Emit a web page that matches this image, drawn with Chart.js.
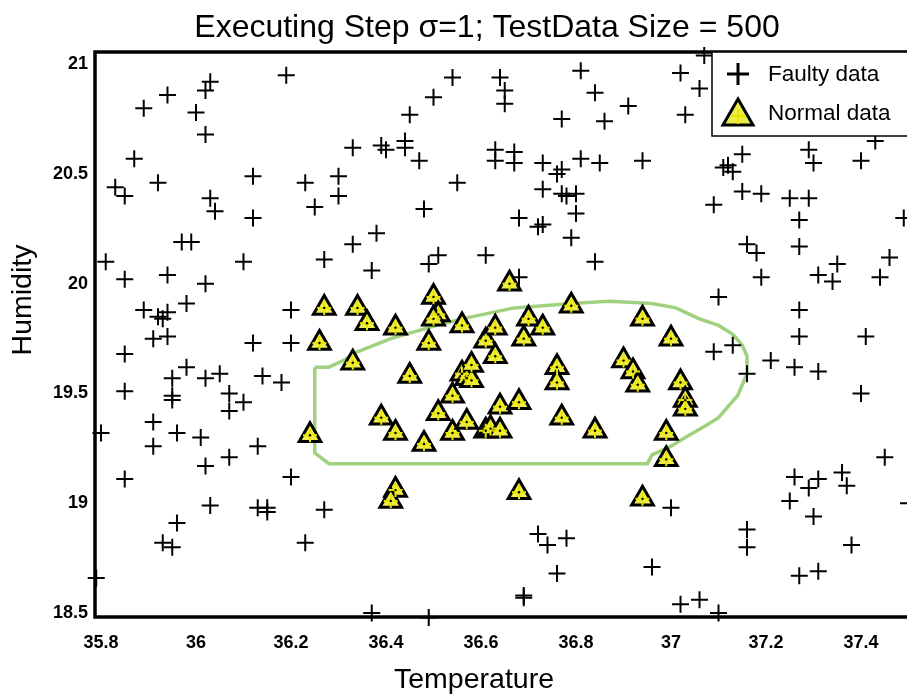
<!DOCTYPE html>
<html>
<head>
<meta charset="utf-8">
<title>Executing Step σ=1; TestData Size = 500</title>
<script src="https://cdn.jsdelivr.net/npm/chart.js@4.4.1/dist/chart.umd.min.js"></script>
<style>
  html, body { margin: 0; padding: 0; background: #fff; overflow: hidden; }
  #wrap { width: 907px; height: 697px; position: relative; }
</style>
</head>
<body>
<div id="wrap"><canvas id="chart"></canvas></div>
<script>
// tick labels
const xTicks = [35.8, 36, 36.2, 36.4, 36.6, 36.8, 37, 37.2, 37.4];
const yTicks = [18.5, 19, 19.5, 20, 20.5, 21];

// Faulty data (crosses)
const faultyTemp = [
    36.19, 36.03, 36.02, 35.94, 35.89, 36.00, 36.02, 36.33, 35.87, 36.12,
    35.83, 35.85, 35.92, 36.23, 36.30, 36.30, 36.03, 36.04, 36.12, 36.25,
    36.81, 36.54, 36.64, 36.65, 36.65, 36.50, 36.45, 36.84, 36.91, 36.77,
    36.86, 37.02, 37.03, 37.06, 36.39, 36.40, 36.44, 36.44, 36.47, 36.63,
    36.63, 36.67, 36.67, 36.73, 36.77, 36.76, 36.81, 36.85, 36.94, 36.55,
    36.73, 36.77, 36.78, 36.80, 36.80, 36.48, 36.68, 36.73, 36.72, 36.38,
    36.79, 36.37, 36.49, 36.51, 36.61, 36.68, 36.84,
    37.07, 37.15, 37.12, 37.29, 37.30, 37.40, 37.43, 37.11, 37.13, 37.09,
    37.15, 37.19, 37.25, 37.29, 37.27, 37.49, 37.16, 37.18, 37.27, 37.46,
    37.35, 37.31, 37.34, 37.19, 37.44,
    35.97, 35.99, 35.81, 36.10, 36.27, 36.33, 35.85, 35.94, 36.02, 35.98,
    35.89, 35.92, 35.94, 35.93, 36.20, 35.91, 35.94, 36.12, 36.20, 35.85,
    35.98, 35.95, 36.02, 36.05, 36.14, 36.18, 35.85, 35.95, 35.95, 36.07,
    36.10, 36.07, 35.91,
    35.80, 35.91, 35.96, 36.01, 36.13, 36.07, 36.02, 36.20, 35.85, 36.03,
    36.13, 36.15, 36.15, 36.27, 35.96, 35.93, 35.95, 36.23, 35.79, 36.37,
    36.49,
    37.45, 37.26, 37.31, 37.29, 37.36, 37.37, 37.25, 37.30, 37.38, 37.16,
    37.16, 37.27, 37.31, 37.00, 36.96, 36.72, 36.74, 36.78, 36.76, 36.69,
    36.69, 37.02, 37.06, 37.10, 37.50,
    37.10, 37.27, 37.27, 37.41, 37.09, 37.13, 37.16, 37.21, 37.26, 37.31,
    37.40
];
const faultyHum = [
    20.95, 20.92, 20.88, 20.86, 20.80, 20.78, 20.68, 20.62, 20.57, 20.49,
    20.44, 20.40, 20.46, 20.46, 20.49, 20.40, 20.39, 20.33, 20.30, 20.35,
    20.97, 20.94, 20.94, 20.88, 20.82, 20.85, 20.77, 20.87, 20.81, 20.75,
    20.74, 20.96, 20.77, 20.89, 20.63, 20.61, 20.65, 20.62, 20.56, 20.61,
    20.56, 20.60, 20.55, 20.55, 20.52, 20.50, 20.57, 20.55, 20.56, 20.46,
    20.43, 20.41, 20.40, 20.41, 20.32, 20.34, 20.30, 20.27, 20.26, 20.23,
    20.21, 20.06, 20.09, 20.13, 20.13, 20.03, 20.10,
    21.04, 20.59, 20.54, 20.61, 20.55, 20.56, 20.65, 20.53, 20.51, 20.36,
    20.42, 20.41, 20.39, 20.39, 20.29, 20.30, 20.18, 20.14, 20.17, 20.12,
    20.09, 20.04, 20.01, 20.03, 20.03,
    20.19, 20.19, 20.10, 20.10, 20.11, 20.18, 20.02, 20.04, 20.00, 19.91,
    19.88, 19.85, 19.87, 19.84, 19.88, 19.75, 19.76, 19.73, 19.73, 19.68,
    19.62, 19.57, 19.57, 19.59, 19.58, 19.55, 19.51, 19.49, 19.47, 19.50,
    19.46, 19.42, 19.37,
    19.32, 19.26, 19.32, 19.30, 19.26, 19.21, 19.17, 19.12, 19.11, 18.99,
    18.98, 18.98, 18.96, 18.97, 18.91, 18.82, 18.80, 18.82, 18.66, 18.50,
    18.48,
    19.21, 19.12, 19.11, 19.07, 19.14, 19.08, 19.01, 18.94, 18.81, 18.88,
    18.80, 18.67, 18.69, 18.98, 18.71, 18.86, 18.81, 18.84, 18.68, 18.58,
    18.57, 18.54, 18.56, 18.50, 19.00,
    19.94, 19.88, 19.76, 19.76, 19.69, 19.72, 19.59, 19.65, 19.62, 19.60,
    19.50
];

// Normal data (triangles)
const normalTemp = [
    36.24, 36.26, 36.27, 36.34, 36.36, 36.33, 36.39, 36.42, 36.42, 36.41,
    36.42, 36.45, 36.48, 36.49, 36.50, 36.51, 36.50, 36.51, 36.54, 36.54,
    36.56, 36.56, 36.57, 36.58, 36.58, 36.57, 36.61, 36.61, 36.62, 36.63,
    36.63, 36.64, 36.64, 36.66, 36.68, 36.68, 36.69, 36.70, 36.73, 36.76,
    36.76, 36.77, 36.79, 36.84, 36.90, 36.92, 36.93, 36.94, 36.94, 36.99,
    36.99, 37.00, 37.02, 37.03, 37.03
];
const normalHum = [
    19.31, 19.73, 19.89, 19.89, 19.82, 19.64, 19.39, 19.32, 19.06, 19.01,
    19.80, 19.58, 19.27, 19.73, 19.94, 19.86, 19.84, 19.41, 19.49, 19.32,
    19.81, 19.59, 19.57, 19.56, 19.63, 19.37, 19.74, 19.33, 19.34, 19.67,
    19.80, 19.44, 19.33, 20.00, 19.46, 19.05, 19.75, 19.84, 19.80, 19.62,
    19.55, 19.39, 19.90, 19.33, 19.65, 19.60, 19.54, 19.02, 19.84, 19.32,
    19.20, 19.75, 19.55, 19.47, 19.43
];

// decision boundary (green line)
const boundaryTemp = [
    36.25, 36.28, 36.31, 36.34, 36.41, 36.49, 36.56, 36.67, 36.79, 36.87,
    36.96, 37.01, 37.06, 37.10, 37.13, 37.15, 37.16, 37.16, 37.15, 37.14,
    37.12, 37.10, 37.07, 37.03, 37.00, 36.96, 36.95, 36.28, 36.25, 36.25
];
const boundaryHum = [
    19.62, 19.62, 19.65, 19.69, 19.75, 19.80, 19.84, 19.89, 19.91, 19.92,
    19.91, 19.89, 19.84, 19.81, 19.77, 19.72, 19.67, 19.59, 19.54, 19.49,
    19.44, 19.39, 19.35, 19.30, 19.26, 19.22, 19.18, 19.18, 19.23, 19.62
];

const toPoints = (xs, ys) => xs.map((x, i) => ({ x: x, y: ys[i] }));

const font = 'Liberation Sans, Arial, sans-serif';

const frame = {
    id: 'frame',
    afterDatasetsDraw(chart) {
        const ctx = chart.ctx;
        const a = chart.chartArea;
        ctx.save();
        // axes box
        ctx.strokeStyle = '#000';
        ctx.lineWidth = 3.5;
        ctx.beginPath();
        ctx.moveTo(a.right + 2, a.top);
        ctx.lineTo(a.left, a.top);
        ctx.lineTo(a.left, a.bottom);
        ctx.lineTo(a.right + 2, a.bottom);
        ctx.stroke();

        // legend
        const lx = 712, ly = a.top, lw = 200, lh = 84;
        ctx.fillStyle = '#fff';
        ctx.fillRect(lx, ly, lw, lh);
        ctx.lineWidth = 1.5;
        ctx.strokeRect(lx, ly, lw, lh);

        // cross
        ctx.lineWidth = 3;
        ctx.beginPath();
        ctx.moveTo(727, 74); ctx.lineTo(749, 74);
        ctx.moveTo(738, 63); ctx.lineTo(738, 85);
        ctx.stroke();

        // triangle
        ctx.beginPath();
        ctx.moveTo(738, 99); ctx.lineTo(753, 125); ctx.lineTo(723, 125);
        ctx.closePath();
        ctx.fillStyle = '#efec4a';
        ctx.fill();
        ctx.lineWidth = 3;
        ctx.stroke();
        ctx.strokeStyle = '#e6e600';
        ctx.lineWidth = 2;
        ctx.beginPath();
        ctx.moveTo(731, 116); ctx.lineTo(745, 116);
        ctx.moveTo(738, 109); ctx.lineTo(738, 124);
        ctx.stroke();

        ctx.fillStyle = '#000';
        ctx.font = '22.5px ' + font;
        ctx.textBaseline = 'middle';
        ctx.textAlign = 'left';
        ctx.fillText('Faulty data', 768, 75);
        ctx.fillText('Normal data', 768, 114);
        ctx.restore();
    },
    afterDraw(chart) {
        const ctx = chart.ctx;
        ctx.save();
        ctx.fillStyle = '#000';
        ctx.textAlign = 'center';
        ctx.textBaseline = 'alphabetic';
        ctx.font = '32px ' + font;
        ctx.fillText('Executing Step σ=1; TestData Size = 500', 487, 37);
        ctx.font = '28.5px ' + font;
        ctx.fillText('Temperature', 474, 688);
        ctx.translate(31, 300);
        ctx.rotate(-Math.PI / 2);
        ctx.fillText('Humidity', 0, 0);
        ctx.restore();
    }
};

new Chart(document.getElementById('chart'), {
    type: 'scatter',
    data: {
        datasets: [
            {
                label: 'Normal data centre',
                data: toPoints(normalTemp, normalHum),
                pointStyle: 'circle',
                pointRadius: 1.2,
                backgroundColor: '#000',
                borderColor: '#000',
                borderWidth: 0,
                order: 1
            },
            {
                label: 'Normal data mark',
                data: toPoints(normalTemp, normalHum),
                pointStyle: 'cross',
                pointRadius: 7,
                borderColor: '#e6e600',
                borderWidth: 2,
                order: 2
            },
            {
                label: 'Normal data',
                data: toPoints(normalTemp, normalHum),
                pointStyle: 'triangle',
                pointRadius: 12.5,
                backgroundColor: '#efec4a',
                borderColor: '#000',
                borderWidth: 3,
                order: 3
            },
            {
                label: 'Faulty data',
                data: toPoints(faultyTemp, faultyHum),
                pointStyle: 'cross',
                pointRadius: 8.5,
                borderColor: '#000',
                borderWidth: 2,
                clip: false,
                order: 4
            },
            {
                label: 'Boundary',
                data: toPoints(boundaryTemp, boundaryHum),
                showLine: true,
                pointRadius: 0,
                borderColor: '#9fd17f',
                borderWidth: 3.5,
                fill: false,
                tension: 0,
                order: 5
            }
        ]
    },
    options: {
        responsive: true,
        maintainAspectRatio: false,
        animation: false,
        events: [],
        layout: { autoPadding: false, padding: { top: 52, left: 0, right: 0, bottom: 0 } },
        plugins: {
            legend: { display: false },
            title: { display: false },
            tooltip: { enabled: false }
        },
        scales: {
            x: {
                type: 'linear',
                min: 35.7874,
                max: 37.4968,
                grid: { display: false, drawTicks: false },
                border: { display: false },
                afterFit: scale => {
                    scale.height = 80;
                    scale.paddingLeft = 0;
                    scale.paddingRight = 0;
                },
                afterBuildTicks: scale => { scale.ticks = xTicks.map(v => ({ value: v })); },
                ticks: {
                    padding: 15,
                    maxRotation: 0,
                    autoSkip: false,
                    color: '#000',
                    font: { family: font, size: 18, weight: 'bold' },
                    callback: v => String(v)
                }
            },
            y: {
                type: 'linear',
                min: 18.4818,
                max: 21.0558,
                grid: { display: false, drawTicks: false },
                border: { display: false },
                afterFit: scale => {
                    scale.width = 95;
                    scale.paddingTop = 0;
                    scale.paddingBottom = 0;
                },
                afterBuildTicks: scale => { scale.ticks = yTicks.map(v => ({ value: v })); },
                ticks: {
                    padding: 7,
                    autoSkip: false,
                    color: '#000',
                    font: { family: font, size: 18, weight: 'bold' },
                    callback: v => String(v)
                }
            }
        }
    },
    plugins: [frame]
});
</script>
</body>
</html>
